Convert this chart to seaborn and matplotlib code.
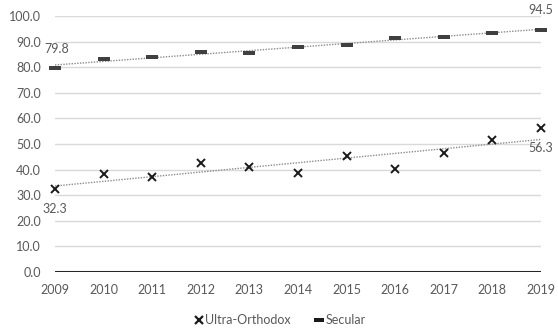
import numpy as np
import pandas as pd
import matplotlib
matplotlib.use("Agg")
import matplotlib.pyplot as plt
import seaborn as sns
from matplotlib.lines import Line2D

years = [2009, 2010, 2011, 2012, 2013, 2014, 2015, 2016, 2017, 2018, 2019]
ultra_orthodox = [32.3, 38.2, 37.2, 42.6, 41.0, 38.8, 45.2, 40.1, 46.4, 51.5, 56.3]
secular = [79.8, 83.1, 83.8, 85.9, 85.7, 87.9, 88.8, 91.5, 91.9, 93.5, 94.5]
y_ticks = [0, 10, 20, 30, 40, 50, 60, 70, 80, 90, 100]

sns.set_theme(style="white")
plt.rcParams["font.family"] = ["Lato", "DejaVu Sans"]

TXT = "#595959"
FS = 9
df = pd.DataFrame({"year": years, "Ultra-Orthodox": ultra_orthodox, "Secular": secular})

fig = plt.figure(figsize=(5.58, 3.35), dpi=100)
ax = fig.add_axes([55 / 558, 63 / 335, 486 / 558, 256 / 335])

# horizontal grid
for t in y_ticks[1:]:
    ax.axhline(t, color="#d9d9d9", lw=1.0, zorder=0)
ax.axhline(0, color="#262626", lw=2.2, zorder=1)

# dotted linear trend lines
for col in ["Ultra-Orthodox", "Secular"]:
    sns.regplot(data=df, x="year", y=col, ax=ax, scatter=False, ci=None,
                truncate=True,
                line_kws=dict(color="#8c8c8c", lw=1.0, ls=(0, (1, 1)), zorder=2))

bar_marker = [(-1, -0.38), (1, -0.38), (1, 0.38), (-1, 0.38), (-1, -0.38)]

ax.plot(years, ultra_orthodox, ls="none", marker="x", ms=6, mew=1.4,
        color="#1a1a1a", zorder=3, clip_on=False)
ax.plot(years, secular, ls="none", marker=bar_marker, ms=8.5, mew=0,
        color="#404040", zorder=3, clip_on=False)

# value labels on the end points
ax.annotate(f"{secular[0]:.1f}", (years[0], secular[0]), xytext=(1, 9),
            textcoords="offset points", ha="center", va="bottom",
            fontsize=FS, color=TXT)
ax.annotate(f"{secular[-1]:.1f}", (years[-1], secular[-1]), xytext=(0, 10),
            textcoords="offset points", ha="center", va="bottom",
            fontsize=FS, color=TXT)
ax.annotate(f"{ultra_orthodox[0]:.1f}", (years[0], ultra_orthodox[0]), xytext=(0, -10),
            textcoords="offset points", ha="center", va="top",
            fontsize=FS, color=TXT)
ax.annotate(f"{ultra_orthodox[-1]:.1f}", (years[-1], ultra_orthodox[-1]), xytext=(0, -10),
            textcoords="offset points", ha="center", va="top",
            fontsize=FS, color=TXT)

ax.set_xlim(years[0], years[-1])
ax.set_ylim(0, 100)
ax.set_xticks(years)
ax.set_xticklabels([str(y) for y in years])
ax.set_yticks(y_ticks)
ax.set_yticklabels([f"{t:.1f}" for t in y_ticks])
ax.tick_params(axis="both", length=0, labelsize=FS, labelcolor=TXT)
ax.tick_params(axis="y", pad=10)
ax.tick_params(axis="x", pad=9)
ax.set_xlabel("")
ax.set_ylabel("")
for s in ax.spines.values():
    s.set_visible(False)

handles = [
    Line2D([], [], ls="none", marker="x", ms=5.5, mew=1.6, color="#1a1a1a"),
    Line2D([], [], ls="none", marker=bar_marker, ms=7, mew=0, color="#1a1a1a"),
]
fig.legend(handles, ["Ultra-Orthodox", "Secular"], loc="center",
           bbox_to_anchor=(0.5, 1 - 320 / 335), ncol=2, frameon=False,
           fontsize=FS, labelcolor=TXT, handletextpad=0.0, columnspacing=1.8,
           handlelength=1.0)

fig.savefig("out.png", dpi=100)
